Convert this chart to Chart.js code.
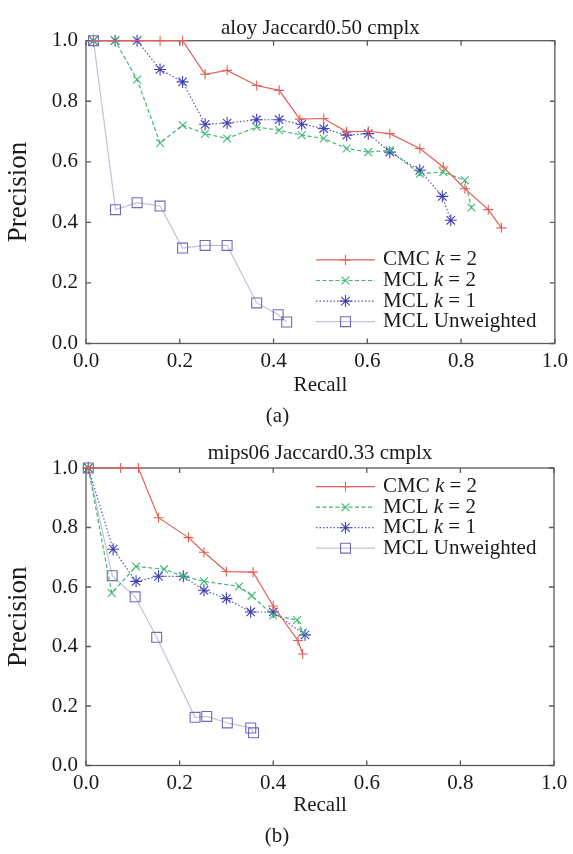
<!DOCTYPE html>
<html>
<head>
<meta charset="utf-8">
<script src="https://cdn.jsdelivr.net/npm/chart.js@4/dist/chart.umd.min.js"></script>
<style>
html,body{margin:0;padding:0;background:#fff;}
body{width:573px;height:854px;position:relative;overflow:hidden;}
.box{position:absolute;left:0;width:573px;}
</style>
</head>
<body>
<div class="box" style="top:0;height:430px;"><canvas id="ca" width="573" height="430"></canvas></div>
<div class="box" style="top:430px;height:424px;"><canvas id="cb" width="573" height="424"></canvas></div>
<script>
// ---- Data: chart (a) aloy Jaccard0.50 cmplx ----
const aCmcRecall = [0.016, 0.158, 0.206, 0.254, 0.301, 0.364, 0.412, 0.456, 0.507, 0.556, 0.602, 0.648, 0.712, 0.762, 0.808, 0.858, 0.886];
const aCmcPrecision = [1.0, 1.0, 1.0, 0.889, 0.902, 0.852, 0.836, 0.741, 0.743, 0.699, 0.701, 0.693, 0.644, 0.583, 0.511, 0.442, 0.382];
const aMcl2Recall = [0.016, 0.062, 0.109, 0.158, 0.206, 0.254, 0.301, 0.364, 0.412, 0.460, 0.507, 0.556, 0.602, 0.648, 0.712, 0.762, 0.808, 0.822];
const aMcl2Precision = [1.0, 1.0, 0.872, 0.662, 0.721, 0.693, 0.677, 0.715, 0.704, 0.688, 0.677, 0.644, 0.632, 0.638, 0.561, 0.566, 0.539, 0.449];
const aMcl1Recall = [0.016, 0.062, 0.109, 0.158, 0.206, 0.254, 0.301, 0.364, 0.412, 0.460, 0.507, 0.556, 0.602, 0.648, 0.712, 0.760, 0.778];
const aMcl1Precision = [1.0, 1.0, 1.0, 0.905, 0.864, 0.724, 0.728, 0.739, 0.739, 0.724, 0.710, 0.688, 0.693, 0.632, 0.572, 0.486, 0.407];
const aUnwRecall = [0.016, 0.063, 0.109, 0.158, 0.206, 0.254, 0.301, 0.364, 0.410, 0.428];
const aUnwPrecision = [1.0, 0.442, 0.465, 0.454, 0.315, 0.324, 0.324, 0.134, 0.095, 0.071];

// ---- Data: chart (b) mips06 Jaccard0.33 cmplx ----
const bCmcRecall = [0.005, 0.074, 0.112, 0.155, 0.219, 0.252, 0.300, 0.357, 0.400, 0.453, 0.463];
const bCmcPrecision = [1.0, 1.0, 1.0, 0.833, 0.766, 0.717, 0.652, 0.650, 0.536, 0.420, 0.375];
const bMcl2Recall = [0.005, 0.055, 0.107, 0.167, 0.208, 0.252, 0.327, 0.354, 0.400, 0.451, 0.464];
const bMcl2Precision = [1.0, 0.580, 0.669, 0.660, 0.636, 0.619, 0.602, 0.571, 0.505, 0.489, 0.447];
const bMcl1Recall = [0.005, 0.058, 0.107, 0.155, 0.208, 0.252, 0.300, 0.352, 0.400, 0.468];
const bMcl1Precision = [1.0, 0.727, 0.619, 0.636, 0.636, 0.589, 0.561, 0.516, 0.516, 0.439];
const bUnwRecall = [0.005, 0.056, 0.105, 0.151, 0.233, 0.258, 0.302, 0.352, 0.358];
const bUnwPrecision = [1.0, 0.638, 0.567, 0.431, 0.162, 0.165, 0.143, 0.126, 0.110];

const seriesLabels = ['CMC k = 2', 'MCL k = 2', 'MCL k = 1', 'MCL Unweighted'];
const titles = ['aloy Jaccard0.50 cmplx', 'mips06 Jaccard0.33 cmplx'];
const panelLabels = ['(a)', '(b)'];
const xTitle = 'Recall';
const yTitle = 'Precision';

const SERIF = "'Liberation Serif','Times New Roman',serif";
const TXT = '#1a1a1a';

function pts(xs, ys){ return xs.map((v,i)=>({x:v, y:ys[i]})); }

const styles = [
  {borderColor:'#e55f58', borderDash:[], pointStyle:'cross', pointRadius:5, pointBorderColor:'#e55f58'},
  {borderColor:'#3fb872', borderDash:[4,2.5], pointStyle:'crossRot', pointRadius:5.5, pointBorderColor:'#3fb872'},
  {borderColor:'#5555c8', borderDash:[1.5,2], pointStyle:'star', pointRadius:6, pointBorderColor:'#4040b4'},
  {borderColor:'#c4c0dc', borderDash:[], pointStyle:'rect', pointRadius:7, pointBorderColor:'#7068b8'}
];

function makeDatasets(list){
  return list.map((d,i)=>Object.assign({
    label: seriesLabels[i],
    data: pts(d[0], d[1]),
    showLine: true,
    borderWidth: 1.2,
    pointBorderWidth: 1.1,
    pointBackgroundColor: 'rgba(0,0,0,0)',
    pointHoverRadius: 5,
    clip: false,
    tension: 0
  }, styles[i]));
}

function drawMarker(ctx, style, r, x, y){
  ctx.beginPath();
  if (style === 'cross'){
    ctx.moveTo(x, y-r); ctx.lineTo(x, y+r); ctx.moveTo(x-r, y); ctx.lineTo(x+r, y);
  } else if (style === 'crossRot'){
    const o = r*Math.SQRT1_2;
    ctx.moveTo(x-o, y-o); ctx.lineTo(x+o, y+o); ctx.moveTo(x+o, y-o); ctx.lineTo(x-o, y+o);
  } else if (style === 'star'){
    const o = r*Math.SQRT1_2;
    ctx.moveTo(x, y-r); ctx.lineTo(x, y+r); ctx.moveTo(x-r, y); ctx.lineTo(x+r, y);
    ctx.moveTo(x-o, y-o); ctx.lineTo(x+o, y+o); ctx.moveTo(x+o, y-o); ctx.lineTo(x-o, y+o);
  } else {
    const s = r*Math.SQRT1_2;
    ctx.rect(x-s, y-s, 2*s, 2*s);
  }
  ctx.stroke();
}

const framePlugin = {
  id: 'frame',
  beforeDatasetsDraw(chart){
    const ctx = chart.ctx;
    const {left, right, top, bottom} = chart.chartArea;
    const xs = chart.scales.x, ys = chart.scales.y;
    ctx.save();
    ctx.strokeStyle = '#5a5a5a';
    ctx.lineWidth = 1.3;
    ctx.strokeRect(left, top, right-left, bottom-top);
    const L = 5;
    ctx.beginPath();
    xs.ticks.forEach(t=>{
      const px = xs.getPixelForValue(t.value);
      ctx.moveTo(px, bottom); ctx.lineTo(px, bottom-L);
      ctx.moveTo(px, top); ctx.lineTo(px, top+L);
    });
    ys.ticks.forEach(t=>{
      const py = ys.getPixelForValue(t.value);
      ctx.moveTo(left, py); ctx.lineTo(left+L, py);
      ctx.moveTo(right, py); ctx.lineTo(right-L, py);
    });
    ctx.stroke();
    ctx.restore();
  }
};

const legendPlugin = {
  id: 'innerLegend',
  afterDraw(chart, args, opts){
    const ctx = chart.ctx;
    const ca = chart.chartArea;
    const dss = chart.data.datasets;
    const n = dss.length;
    const rowH = opts.rowHeight;
    const y0 = opts.anchor === 'bottom' ? ca.bottom - opts.offset - (n-1)*rowH : ca.top + opts.offset;
    dss.forEach((ds,i)=>{
      const yy = y0 + i*rowH;
      ctx.save();
      ctx.strokeStyle = ds.borderColor;
      ctx.lineWidth = ds.borderWidth;
      ctx.setLineDash(ds.borderDash || []);
      ctx.beginPath(); ctx.moveTo(opts.lineX0, yy); ctx.lineTo(opts.lineX1, yy); ctx.stroke();
      ctx.setLineDash([]);
      ctx.strokeStyle = ds.pointBorderColor;
      ctx.lineWidth = ds.pointBorderWidth;
      drawMarker(ctx, ds.pointStyle, ds.pointRadius, (opts.lineX0+opts.lineX1)/2, yy);
      ctx.fillStyle = TXT;
      ctx.textBaseline = 'middle';
      ctx.textAlign = 'left';
      const normal = opts.fontSize + 'px ' + SERIF;
      const italic = 'italic ' + opts.fontSize + 'px ' + SERIF;
      const label = ds.label;
      const k = label.indexOf(' k ');
      let x = opts.textX;
      if (k >= 0){
        const pre = label.slice(0, k+1), post = label.slice(k+2);
        ctx.font = normal; ctx.fillText(pre, x, yy); x += ctx.measureText(pre).width;
        ctx.font = italic; ctx.fillText('k', x, yy); x += ctx.measureText('k').width;
        ctx.font = normal; ctx.fillText(post, x, yy);
      } else {
        ctx.font = normal; ctx.fillText(label, x, yy);
      }
      ctx.restore();
    });
  }
};

function makeChart(id, datasets, cfg){
  return new Chart(document.getElementById(id), {
    type: 'scatter',
    data: {datasets},
    plugins: [framePlugin, legendPlugin],
    options: {
      responsive: false,
      animation: false,
      devicePixelRatio: 1,
      layout: {padding: {left: 0, right: cfg.padRight, top: 0, bottom: 0}},
      scales: {
        x: {
          type: 'linear', min: 0, max: 1,
          grid: {display: false, drawTicks: false},
          border: {display: false},
          ticks: {stepSize: 0.2, padding: 5, color: TXT, font: {family: SERIF, size: 21, lineHeight: 1.2},
                  callback: v => Number(v).toFixed(1), maxRotation: 0},
          title: {display: true, text: xTitle, color: TXT, font: {family: SERIF, size: 21, lineHeight: 1.2}, padding: {top: 0, bottom: 0}},
          afterFit: s => { s.height = cfg.xAxisH; }
        },
        y: {
          type: 'linear', min: 0, max: 1,
          grid: {display: false, drawTicks: false},
          border: {display: false},
          ticks: {stepSize: 0.2, padding: 8, color: TXT, font: {family: SERIF, size: 21, lineHeight: 1.2},
                  callback: v => Number(v).toFixed(1)},
          title: {display: true, text: yTitle, color: TXT, font: {family: SERIF, size: 27, lineHeight: 1.2}, padding: {top: 3, bottom: 0}},
          afterFit: s => { s.width = 86; }
        }
      },
      plugins: {
        legend: {display: false},
        tooltip: {enabled: false},
        title: {display: true, text: cfg.title, fullSize: false, color: TXT,
                font: {family: SERIF, size: 21, weight: 'normal', lineHeight: 1.2},
                padding: {top: cfg.titlePadTop, bottom: cfg.titlePadBottom}},
        subtitle: {display: true, position: 'bottom', text: cfg.panel, color: TXT,
                font: {family: SERIF, size: 21, weight: 'normal', lineHeight: 1.2},
                padding: {top: cfg.subPadTop, bottom: cfg.subPadBottom}},
        innerLegend: cfg.legend
      }
    }
  });
}

makeChart('ca', makeDatasets([
  [aCmcRecall, aCmcPrecision], [aMcl2Recall, aMcl2Precision],
  [aMcl1Recall, aMcl1Precision], [aUnwRecall, aUnwPrecision]
]), {
  title: titles[0], panel: panelLabels[0], padRight: 18,
  titlePadTop: 15.5, titlePadBottom: 0, xAxisH: 54.8, subPadTop: 5.8, subPadBottom: 0.7,
  legend: {anchor: 'bottom', offset: 21.8, rowHeight: 20.6, lineX0: 316, lineX1: 375, textX: 383, fontSize: 21}
});

makeChart('cb', makeDatasets([
  [bCmcRecall, bCmcPrecision], [bMcl2Recall, bMcl2Precision],
  [bMcl1Recall, bMcl1Precision], [bUnwRecall, bUnwPrecision]
]), {
  title: titles[1], panel: panelLabels[1], padRight: 19,
  titlePadTop: 10.4, titlePadBottom: 2.4, xAxisH: 52.8, subPadTop: 5.8, subPadBottom: 4.7,
  legend: {anchor: 'top', offset: 18.7, rowHeight: 20.5, lineX0: 316, lineX1: 375, textX: 383, fontSize: 21}
});
</script>
</body>
</html>
